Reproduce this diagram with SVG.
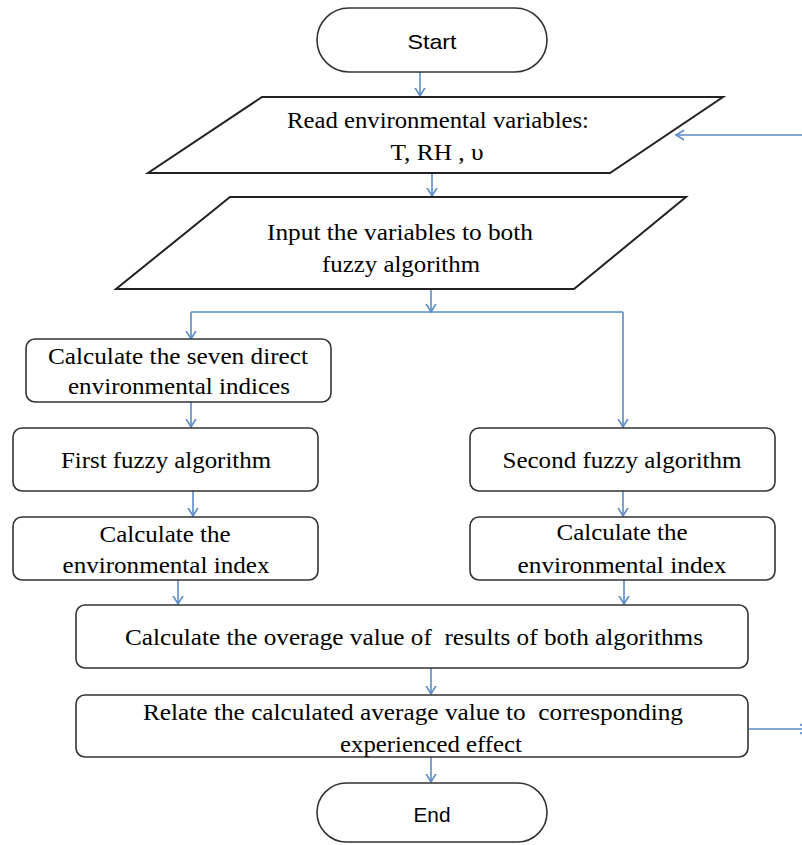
<svg xmlns="http://www.w3.org/2000/svg" width="802" height="845" viewBox="0 0 802 845">
<defs>
<style>
.box{fill:#fff;stroke:#333;stroke-width:1.6}
.par{fill:#fff;stroke:#222;stroke-width:2}
.t{font-family:"Liberation Serif","Times New Roman",serif;font-size:24px;fill:#000;text-anchor:middle;white-space:pre}
.s{font-family:"Liberation Sans",Arial,sans-serif;font-size:21px;fill:#000;text-anchor:middle}
.c{fill:none;stroke:#5b8bc9;stroke-width:1.6}
</style>
<marker id="ah" markerUnits="userSpaceOnUse" viewBox="-8 -8 16 16" refX="0" refY="0" markerWidth="16" markerHeight="16" orient="auto">
<path d="M-10,-6 L0,0 L-10,6" fill="none" stroke="#5b8bc9" stroke-width="1.6"/>
</marker>
</defs>
<rect width="802" height="845" fill="#fff"/>
<g id="connectors">
<line class="c" x1="420" y1="72" x2="420" y2="96" marker-end="url(#ah)"/>
<line class="c" x1="432" y1="173" x2="432" y2="196" marker-end="url(#ah)"/>
<line class="c" x1="431" y1="289" x2="431" y2="312" marker-end="url(#ah)"/>
<polyline class="c" points="191,312 623,312"/>
<line class="c" x1="191" y1="312" x2="191" y2="339" marker-end="url(#ah)"/>
<line class="c" x1="623" y1="312" x2="623" y2="427" marker-end="url(#ah)"/>
<line class="c" x1="191" y1="402" x2="191" y2="427" marker-end="url(#ah)"/>
<line class="c" x1="193" y1="491" x2="193" y2="516" marker-end="url(#ah)"/>
<line class="c" x1="178" y1="580" x2="178" y2="604" marker-end="url(#ah)"/>
<line class="c" x1="623" y1="491" x2="623" y2="516" marker-end="url(#ah)"/>
<line class="c" x1="624" y1="580" x2="624" y2="604" marker-end="url(#ah)"/>
<line class="c" x1="431" y1="668" x2="431" y2="694" marker-end="url(#ah)"/>
<line class="c" x1="431" y1="757" x2="431" y2="782" marker-end="url(#ah)"/>
<line class="c" x1="749" y1="729" x2="808" y2="729" marker-end="url(#ah)"/>
<line class="c" x1="802" y1="135" x2="676" y2="135" marker-end="url(#ah)"/>
</g>
<g id="start">
<rect class="box" x="317" y="8" width="230" height="64" rx="32"/>
<text class="s" x="432" y="49" textLength="49" lengthAdjust="spacingAndGlyphs">Start</text>
</g>
<g id="read">
<polygon class="par" points="262,97 723,97 610,173 148,173"/>
<text class="t" x="438" y="128" textLength="302" lengthAdjust="spacingAndGlyphs">Read environmental variables:</text>
<text class="t" x="437" y="160" textLength="93" lengthAdjust="spacingAndGlyphs">T, RH , υ</text>
</g>
<g id="input">
<polygon class="par" points="230,197 686,197 574,289 116,289"/>
<text class="t" x="400" y="240" textLength="266" lengthAdjust="spacingAndGlyphs">Input the variables to both</text>
<text class="t" x="401" y="272" textLength="158" lengthAdjust="spacingAndGlyphs">fuzzy algorithm</text>
</g>
<g id="seven">
<rect class="box" x="26" y="339" width="305" height="63" rx="9"/>
<text class="t" x="178" y="364" textLength="260" lengthAdjust="spacingAndGlyphs">Calculate the seven direct</text>
<text class="t" x="179" y="394" textLength="222" lengthAdjust="spacingAndGlyphs">environmental indices</text>
</g>
<g id="first">
<rect class="box" x="13" y="428" width="305" height="63" rx="9"/>
<text class="t" x="166" y="468" textLength="210" lengthAdjust="spacingAndGlyphs">First fuzzy algorithm</text>
</g>
<g id="index1">
<rect class="box" x="13" y="517" width="305" height="63" rx="9"/>
<text class="t" x="165" y="542" textLength="131" lengthAdjust="spacingAndGlyphs">Calculate the</text>
<text class="t" x="166" y="573" textLength="207" lengthAdjust="spacingAndGlyphs">environmental index</text>
</g>
<g id="second">
<rect class="box" x="470" y="428" width="305" height="63" rx="9"/>
<text class="t" x="622" y="468" textLength="239" lengthAdjust="spacingAndGlyphs">Second fuzzy algorithm</text>
</g>
<g id="index2">
<rect class="box" x="470" y="517" width="305" height="63" rx="9"/>
<text class="t" x="622" y="540" textLength="131" lengthAdjust="spacingAndGlyphs">Calculate the</text>
<text class="t" x="622" y="573" textLength="209" lengthAdjust="spacingAndGlyphs">environmental index</text>
</g>
<g id="average">
<rect class="box" x="76" y="605" width="672" height="63" rx="9"/>
<text class="t" x="414" y="645" textLength="578" lengthAdjust="spacingAndGlyphs">Calculate the overage value of  results of both algorithms</text>
</g>
<g id="relate">
<rect class="box" x="76" y="695" width="672" height="62" rx="9"/>
<text class="t" x="413" y="720" textLength="540" lengthAdjust="spacingAndGlyphs">Relate the calculated average value to  corresponding</text>
<text class="t" x="431" y="752" textLength="182" lengthAdjust="spacingAndGlyphs">experienced effect</text>
</g>
<g id="end">
<rect class="box" x="317" y="783" width="230" height="59" rx="29.5"/>
<text class="s" x="432" y="822" textLength="37" lengthAdjust="spacingAndGlyphs">End</text>
</g>
</svg>
